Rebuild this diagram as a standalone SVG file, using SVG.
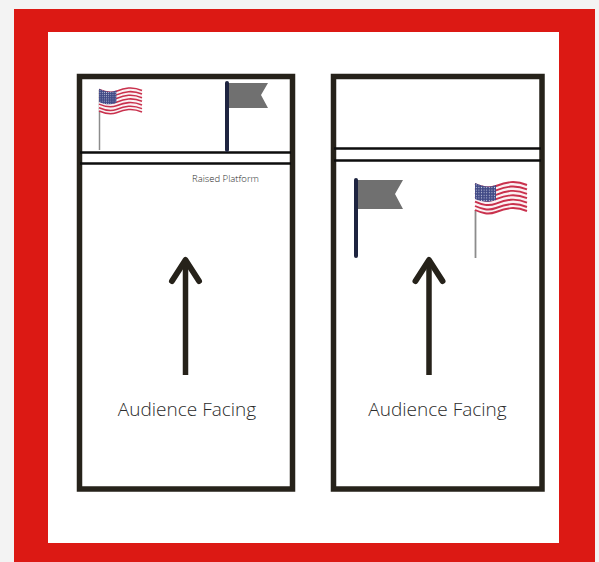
<svg xmlns="http://www.w3.org/2000/svg" xmlns:xlink="http://www.w3.org/1999/xlink" width="599" height="562" viewBox="0 0 599 562">
<style>
.box{fill:none;stroke:#26221a;stroke-width:5.500}
.plat{stroke:#0d0d0d;stroke-width:2.600;fill:none}
.arrow{fill:none;stroke:#26221a;stroke-width:6;stroke-linecap:round;stroke-linejoin:round}
.shaft{stroke:#26221a;stroke-width:5.500;fill:none}
.label{font-family:"Open Sans","Liberation Sans",sans-serif;font-weight:300;fill:#2b2b2b}
.pole{stroke:#1e2440;stroke-linecap:round;fill:none}
.grey{fill:#707070}
.uspole{stroke:#8c8c8c;fill:none}
.st{fill:none;stroke:#c9314d}
</style>
<defs>
<pattern id="stars" width="2.6" height="2.6" patternUnits="userSpaceOnUse">
<rect width="2.6" height="2.6" fill="#414a86"/>
<circle cx="1.3" cy="1.3" r="0.55" fill="#c9cce0"/>
</pattern>
<path id="w" d="M0,0 C7,3 13,5 21,2 C31,-2 40,-4 52,1"/>
<symbol id="usflag" viewBox="0 0 52 36" overflow="visible">
<path d="M0,2 C7,5 13,7 21,4 C31,0 40,-2 52,3 L52,29 C40,24 31,26 21,30 C13,33 7,33 0,29 Z" fill="#fbf1f3"/>
<g class="st" stroke-width="1.900">
<use xlink:href="#w" y="3"/><use xlink:href="#w" y="7.4"/><use xlink:href="#w" y="11.8"/><use xlink:href="#w" y="16.2"/><use xlink:href="#w" y="20.6"/><use xlink:href="#w" y="25"/><use xlink:href="#w" y="29"/>
</g>
<path d="M0,2 C7,5 13,7 21,4 L21,19 C13,22 7,21 0,18 Z" fill="url(#stars)"/>
</symbol>
</defs>
<rect width="599" height="562" fill="#f3f3f3"/>
<rect x="14" y="9" width="581" height="553" fill="#dc1914"/>
<rect x="48" y="32" width="511" height="511" fill="#fff"/>
<g id="stage-left">
<rect class="box" x="79.500" y="76.500" width="213" height="412.500"/>
<path class="plat" d="M80,152.500H291M80,163.500H291"/>
<text class="label" x="225.500" y="182" font-size="9.500" text-anchor="middle">Raised Platform</text>
<text class="label" x="187" y="416" font-size="19" text-anchor="middle">Audience Facing</text>
</g>
<g id="stage-right">
<rect class="box" x="333.500" y="76.500" width="208.500" height="412.500"/>
<path class="plat" d="M334,148.500H541M334,160.500H541"/>
<text class="label" x="437.500" y="416" font-size="19" text-anchor="middle">Audience Facing</text>
</g>
<g id="flag-us-left">
<path class="uspole" stroke-width="1.500" d="M99.500,90V150"/>
<use xlink:href="#usflag" x="99" y="87" width="43" height="30"/>
</g>
<g id="flag-grey-left">
<path class="grey" d="M228,83H268L261,95L268,108H228Z"/>
<path class="pole" stroke-width="4" d="M227,83V150"/>
</g>
<g id="flag-grey-right">
<path class="grey" d="M357,180H403L395,194L403,209H357Z"/>
<path class="pole" stroke-width="4" d="M356,180V256"/>
</g>
<g id="flag-us-right">
<path class="uspole" stroke-width="1.800" d="M475.500,210V258"/>
<use xlink:href="#usflag" x="475" y="181" width="52" height="36"/>
</g>
<g id="connectors">
<path class="shaft" d="M185.500,375V262"/>
<path class="arrow" d="M172,281L185.500,260L199,281"/>
<path class="shaft" d="M429,375V262"/>
<path class="arrow" d="M415.500,281L429,260L442.500,281"/>
</g>
</svg>
